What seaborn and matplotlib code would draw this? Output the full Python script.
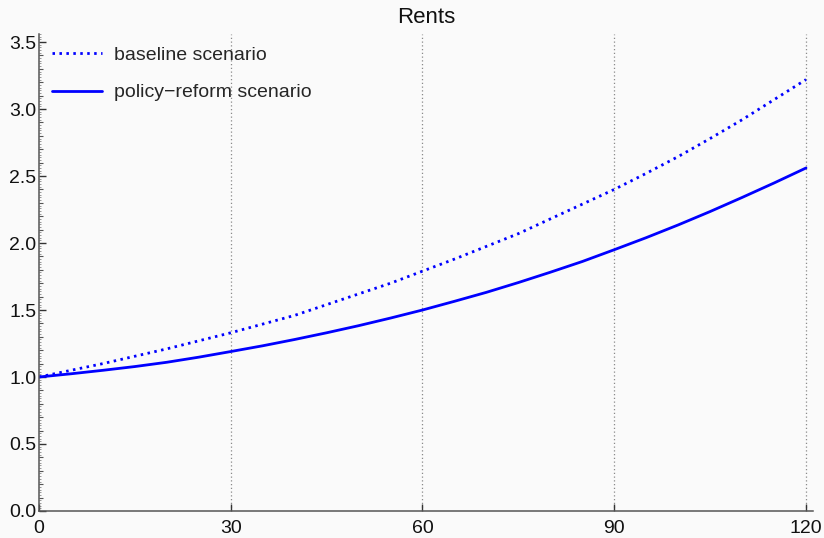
import matplotlib
matplotlib.use("Agg")
import matplotlib.pyplot as plt
import seaborn as sns
import pandas as pd
from matplotlib.lines import Line2D
from matplotlib.ticker import MultipleLocator, NullLocator, NullFormatter

# Months since start of simulation
months = [0, 5, 10, 15, 20, 25, 30, 35, 40, 45, 50, 55, 60,
          65, 70, 75, 80, 85, 90, 95, 100, 105, 110, 115, 120]
# Rent index, normalised to 1 at month 0
baseline = [1.000, 1.050, 1.100, 1.155, 1.210, 1.270, 1.330, 1.395, 1.460, 1.540, 1.620, 1.700, 1.790,
            1.880, 1.975, 2.070, 2.180, 2.290, 2.400, 2.520, 2.645, 2.780, 2.920, 3.070, 3.220]
reform = [1.000, 1.024, 1.050, 1.078, 1.110, 1.148, 1.190, 1.233, 1.280, 1.330, 1.383, 1.440, 1.500,
          1.565, 1.632, 1.705, 1.782, 1.862, 1.950, 2.040, 2.135, 2.235, 2.340, 2.448, 2.560]
series_names = ["baseline scenario", "policy\u2212reform scenario"]

df = pd.concat([
    pd.DataFrame({"month": months, "rent": baseline, "scenario": series_names[0]}),
    pd.DataFrame({"month": months, "rent": reform, "scenario": series_names[1]}),
])

sns.set_theme(style="ticks")
plt.rcParams["font.family"] = ["Liberation Sans", "DejaVu Sans"]

bg = "#fafafa"
blue = "#0000ff"
dot = (0, (0.9, 1.6))

fig = plt.figure(figsize=(8.24, 5.38), dpi=100, facecolor=bg)
ax = fig.add_axes([0.0473, 0.0502, 0.9394, 0.8866], facecolor=bg)

sns.lineplot(data=df, x="month", y="rent", hue="scenario", style="scenario",
             palette=[blue, blue], dashes={series_names[0]: dot[1], series_names[1]: ""},
             linewidth=2.0, ax=ax, legend=False)

# vertical dotted grid at the x ticks
for xv in [30, 60, 90, 120]:
    ax.axvline(xv, color="#8a8a8a", linestyle=(0, (1, 2)), linewidth=0.9, zorder=0)

ax.set_xlim(0, 121.1)
ax.set_ylim(0, 3.56)
ax.set_xlabel("")
ax.set_ylabel("")
ax.set_title("Rents", fontsize=16, color="#111111", pad=8)

for side in ["top", "right"]:
    ax.spines[side].set_visible(False)
for side in ["left", "bottom"]:
    ax.spines[side].set_color("#555555")
    ax.spines[side].set_linewidth(1.1)

ax.set_xticks([0, 30, 60, 90, 120])
ax.xaxis.set_minor_locator(NullLocator())
ax.yaxis.set_major_locator(MultipleLocator(0.5))
ax.yaxis.set_minor_locator(MultipleLocator(0.1))
ax.yaxis.set_major_formatter(plt.FuncFormatter(lambda v, p: f"{v:.1f}"))
ax.tick_params(axis="both", which="major", direction="in", length=5, width=1,
               color="#333333", labelsize=14, labelcolor="#111111")
ax.tick_params(axis="y", which="major", pad=2)
ax.tick_params(axis="x", which="major", pad=6.5)
ax.tick_params(axis="y", which="minor", direction="in", length=3, width=0.8, color="#555555")

# finest tick level along the y axis
sec = ax.secondary_yaxis("left")
sec.yaxis.set_major_locator(NullLocator())
sec.yaxis.set_minor_locator(MultipleLocator(0.02))
sec.yaxis.set_minor_formatter(NullFormatter())
sec.tick_params(which="minor", direction="in", length=1.5, width=0.6, color="#888888")
sec.spines["left"].set_visible(False)

handles = [Line2D([], [], color=blue, lw=2.0, linestyle=dot),
           Line2D([], [], color=blue, lw=2.0)]
ax.legend(handles, series_names, loc="upper left", bbox_to_anchor=(0.0, 1.0),
          frameon=False, fontsize=14, handlelength=2.6, handletextpad=0.6,
          labelspacing=1.0, borderaxespad=0.25)

fig.savefig("out.png", dpi=100, facecolor=bg)
